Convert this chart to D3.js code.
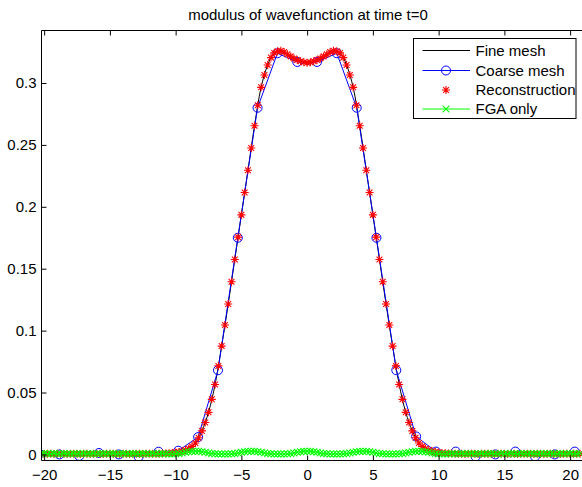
<!DOCTYPE html>
<html>
<head>
<meta charset="utf-8">
<script src="https://cdn.jsdelivr.net/npm/d3@7"></script>
<style>
  body { margin: 0; background: #fff; }
  svg { display: block; font-family: "Liberation Sans", Arial, Helvetica, sans-serif; }
</style>
</head>
<body>
<div id="chart"></div>
<script>
const title = 'modulus of wavefunction at time t=0';
const xTicks = [-20, -15, -10, -5, 0, 5, 10, 15, 20];
const yTicks = [0, 0.05, 0.1, 0.15, 0.2, 0.25, 0.3];
const seriesNames = ['Fine mesh', 'Coarse mesh', 'Reconstruction', 'FGA only'];

// fine mesh: one value every 0.5 starting at x = -20.5
const fineX0 = -20.5, fineStep = 0.5;
const fineY = [
  0.0005, 0.0005, 0.0005, 0.0005, 0.0005, 0.0005, 0.0005, 0.0005, 0.0005,
  0.0005, 0.0005, 0.0005, 0.0005, 0.0005, 0.0005, 0.0005, 0.0005, 0.0005,
  0.0006, 0.0007, 0.0010, 0.0015, 0.0026, 0.0046, 0.0092, 0.019, 0.034,
  0.0565, 0.0875, 0.1215, 0.1575, 0.1935, 0.2295, 0.2655, 0.2965, 0.3145,
  0.3245, 0.3262, 0.3232, 0.3198, 0.3178,
  0.3168,
  0.3178, 0.3198, 0.3232, 0.3262, 0.3245, 0.3145, 0.2965, 0.2655, 0.2295,
  0.1935, 0.1575, 0.1215, 0.0875, 0.0565, 0.034, 0.019, 0.0092, 0.0046,
  0.0026, 0.0015, 0.0010, 0.0007, 0.0006,
  0.0005, 0.0005, 0.0005, 0.0005, 0.0005, 0.0005, 0.0005, 0.0005, 0.0005, 0.0005,
  0.0005, 0.0005, 0.0005, 0.0005, 0.0005, 0.0005, 0.0005, 0.0005, 0.0005
];

// coarse mesh nodes
const coarseX = [-20.35, -18.84, -17.33, -15.83, -14.32, -12.81, -11.30, -9.80, -8.29, -6.78,
  -5.27, -3.77, -2.26, -0.75, 0.75, 2.26, 3.77, 5.27, 6.78, 8.29,
  9.80, 11.30, 12.81, 14.32, 15.83, 17.33, 18.84, 20.35];
const coarseY = [0.0005, 0.0000, -0.0012, 0.0012, 0.0000, -0.0018, 0.0022, 0.0030, 0.0140, 0.068,
  0.175, 0.280, 0.324, 0.317, 0.317, 0.324, 0.280, 0.175, 0.068, 0.0145,
  0.0023, 0.0023, -0.0017, 0.0000, 0.0023, -0.0017, 0.0000, 0.0023];

// reconstruction and FGA: one value every 0.25 starting at x = -20.25
const reconX0 = -20.25, reconStep = 0.25;
const reconY = [
  0.0005, 0.0004, 0.0006, 0.0005, 0.0004, 0.0006, 0.0005, 0.0005, 0.0004, 0.0006, 0.0005, 0.0005,
  0.0004, 0.0006, 0.0005, 0.0004, 0.0005, 0.0006, 0.0005, 0.0004, 0.0005, 0.0006, 0.0005, 0.0005,
  0.0004, 0.0006, 0.0005, 0.0004, 0.0005, 0.0006, 0.0005, 0.0004, 0.0005, 0.0006, 0.0005, 0.0005,
  0.0006, 0.0007, 0.0008, 0.0010, 0.0012, 0.0015, 0.0020, 0.0026, 0.0035, 0.0046, 0.0065, 0.0092,
  0.0135, 0.0190, 0.0258, 0.0340, 0.0445, 0.0565, 0.0715, 0.0875, 0.1045, 0.1215, 0.1395, 0.1575,
  0.1755, 0.1935, 0.2115, 0.2295, 0.2475, 0.2655, 0.2820, 0.2965, 0.3065, 0.3145, 0.3205, 0.3243,
  0.3257, 0.3260, 0.3250, 0.3232, 0.3215, 0.3198, 0.3185, 0.3175, 0.3168,
  0.3163,
  0.3168, 0.3175, 0.3185, 0.3198, 0.3215, 0.3232, 0.3250, 0.3260, 0.3257, 0.3243, 0.3205, 0.3145,
  0.3065, 0.2965, 0.2820, 0.2655, 0.2475, 0.2295, 0.2115, 0.1935, 0.1755, 0.1575, 0.1395, 0.1215,
  0.1045, 0.0875, 0.0715, 0.0565, 0.0445, 0.0340, 0.0258, 0.0190, 0.0135, 0.0092, 0.0065, 0.0046,
  0.0035, 0.0026, 0.0020, 0.0015, 0.0012, 0.0010, 0.0008, 0.0007, 0.0006,
  0.0005, 0.0006, 0.0004, 0.0005, 0.0005, 0.0006, 0.0004, 0.0005, 0.0006, 0.0005, 0.0004, 0.0005,
  0.0006, 0.0005, 0.0005, 0.0004, 0.0006, 0.0005, 0.0004, 0.0005, 0.0006, 0.0005, 0.0005, 0.0004,
  0.0006, 0.0005, 0.0004, 0.0005, 0.0006, 0.0005, 0.0005, 0.0004, 0.0006, 0.0005, 0.0004, 0.0005,
  0.0006, 0.0005
];
const fgaY = [
  0.0006, 0.0007, 0.0006, 0.0006, 0.0007, 0.0006, 0.0006, 0.0007, 0.0006, 0.0006, 0.0007, 0.0006, 0.0006,
  0.0007, 0.0006, 0.0006, 0.0007, 0.0006, 0.0006, 0.0007, 0.0006, 0.0006, 0.0007, 0.0006, 0.0006, 0.0007,
  0.0006, 0.0006, 0.0007, 0.0006, 0.0006, 0.0007, 0.0006, 0.0006, 0.0007, 0.0006, 0.0006, 0.0007, 0.0006,
  0.0004, 0.0004, 0.0005, 0.0008, 0.0012, 0.0017, 0.0022, 0.0025,
  0.0026, 0.0025, 0.0022, 0.0017, 0.0012, 0.0008, 0.0005, 0.0004, 0.0004,
  0.0004, 0.0004, 0.0005, 0.0008, 0.0012, 0.0017, 0.0022, 0.0025,
  0.0026, 0.0025, 0.0022, 0.0017, 0.0012, 0.0008, 0.0005, 0.0004, 0.0004,
  0.0004, 0.0004, 0.0005, 0.0008, 0.0012, 0.0017, 0.0022, 0.0025,
  0.0026, 0.0025, 0.0022, 0.0017, 0.0012, 0.0008, 0.0005, 0.0004, 0.0004,
  0.0004, 0.0004, 0.0005, 0.0008, 0.0012, 0.0017, 0.0022, 0.0025,
  0.0026, 0.0025, 0.0022, 0.0017, 0.0012, 0.0008, 0.0005, 0.0004, 0.0004,
  0.0004, 0.0004, 0.0005, 0.0008, 0.0012, 0.0017, 0.0022, 0.0025,
  0.0026, 0.0025, 0.0022, 0.0017, 0.0012, 0.0008, 0.0005, 0.0004, 0.0004,
  0.0006, 0.0007, 0.0006, 0.0006, 0.0007, 0.0006, 0.0006, 0.0007, 0.0006, 0.0006, 0.0007, 0.0006, 0.0006,
  0.0007, 0.0006, 0.0006, 0.0007, 0.0006, 0.0006, 0.0007, 0.0006, 0.0006, 0.0007, 0.0006, 0.0006, 0.0007,
  0.0006, 0.0006, 0.0007, 0.0006, 0.0006, 0.0007, 0.0006, 0.0006, 0.0007, 0.0006, 0.0006, 0.0007, 0.0006,
  0.0006, 0.0007
];

const width = 582, height = 487;
const plotLeft = 41.5, plotTop = 30.5, plotBottom = 460.5, plotRight = 600;
const fontSize = 15;

const svg = d3.select('#chart').append('svg')
  .attr('width', width)
  .attr('height', height);

svg.append('rect').attr('width', width).attr('height', height).attr('fill', '#fff');

const x = d3.scaleLinear().domain([-20.2, 22]).range([plotLeft, plotLeft + 42.2 * 13.15]);
const y = d3.scaleLinear().domain([-0.0049, 0.3424]).range([plotBottom, plotTop]);

svg.append('clipPath').attr('id', 'plot-clip')
  .append('rect')
  .attr('x', plotLeft).attr('y', plotTop)
  .attr('width', plotRight - plotLeft).attr('height', plotBottom - plotTop);

const fine = fineY.map((v, i) => ({ x: fineX0 + i * fineStep, y: v }));
const coarse = coarseX.map((v, i) => ({ x: v, y: coarseY[i] }));
const recon = reconY.map((v, i) => ({ x: reconX0 + i * reconStep, y: v }));
const fga = fgaY.map((v, i) => ({ x: reconX0 + i * reconStep, y: v }));

const plot = svg.append('g').attr('clip-path', 'url(#plot-clip)');

plot.append('path')
  .datum(fine)
  .attr('fill', 'none')
  .attr('stroke', '#000')
  .attr('stroke-width', 1)
  .attr('d', d3.line().x(d => x(d.x)).y(d => y(d.y)).curve(d3.curveCatmullRom));

plot.append('path')
  .datum(coarse)
  .attr('fill', 'none')
  .attr('stroke', '#0000ff')
  .attr('stroke-width', 1)
  .attr('d', d3.line().x(d => x(d.x)).y(d => y(d.y)));

plot.selectAll('circle.coarse')
  .data(coarse)
  .join('circle')
  .attr('class', 'coarse')
  .attr('cx', d => x(d.x))
  .attr('cy', d => y(d.y))
  .attr('r', 4.5)
  .attr('fill', 'none')
  .attr('stroke', '#0000ff');

function starPath(r) {
  const d = r * 0.72;
  return `M${-r},0H${r}M0,${-r}V${r}M${-d},${-d}L${d},${d}M${-d},${d}L${d},${-d}`;
}
function crossPath(r) {
  return `M${-r},${-r}L${r},${r}M${-r},${r}L${r},${-r}`;
}

plot.selectAll('path.recon')
  .data(recon)
  .join('path')
  .attr('class', 'recon')
  .attr('transform', d => `translate(${x(d.x)},${y(d.y)})`)
  .attr('d', starPath(4))
  .attr('fill', 'none')
  .attr('stroke', '#ff0000')
  .attr('stroke-width', 1.1);

plot.append('path')
  .datum(fga)
  .attr('fill', 'none')
  .attr('stroke', '#00ff00')
  .attr('stroke-width', 1)
  .attr('d', d3.line().x(d => x(d.x)).y(d => y(d.y)));

plot.selectAll('path.fga')
  .data(fga)
  .join('path')
  .attr('class', 'fga')
  .attr('transform', d => `translate(${x(d.x)},${y(d.y)})`)
  .attr('d', crossPath(3.4))
  .attr('fill', 'none')
  .attr('stroke', '#00ff00')
  .attr('stroke-width', 1.1);

// axes with inward ticks
const fmt = d => d < 0 ? '\u2212' + Math.abs(d) : String(d);

const xAxis = svg.append('g')
  .attr('transform', `translate(0,${plotBottom})`)
  .call(d3.axisBottom(x).tickValues(xTicks).tickSize(-5).tickPadding(9).tickFormat(fmt));
const xAxisTop = svg.append('g')
  .attr('transform', `translate(0,${plotTop})`)
  .call(d3.axisTop(x).tickValues(xTicks).tickSize(-5).tickFormat(''));
const yAxis = svg.append('g')
  .attr('transform', `translate(${plotLeft},0)`)
  .call(d3.axisLeft(y).tickValues(yTicks).tickSize(-5).tickPadding(5).tickFormat(d => String(d)));

[xAxis, xAxisTop, yAxis].forEach(g => {
  g.select('.domain').remove();
  g.attr('font-size', fontSize).attr('font-family', null);
  g.selectAll('text').attr('fill', '#000');
  g.selectAll('line').attr('stroke', '#000');
});

svg.append('path')
  .attr('d', `M${plotRight},${plotTop}H${plotLeft}V${plotBottom}H${plotRight}`)
  .attr('fill', 'none')
  .attr('stroke', '#000')
  .attr('stroke-width', 1);

svg.append('text')
  .attr('x', 308)
  .attr('y', 20)
  .attr('text-anchor', 'middle')
  .attr('font-size', fontSize)
  .text(title);

// legend
const legend = svg.append('g').attr('transform', 'translate(413.5,38.5)');
legend.append('rect')
  .attr('width', 162.5)
  .attr('height', 80)
  .attr('fill', '#fff')
  .attr('stroke', '#000');

const legendRows = [12, 32, 51.5, 70.5];
const legendStyle = [
  { color: '#000', line: true, marker: null },
  { color: '#0000ff', line: true, marker: 'circle' },
  { color: '#ff0000', line: false, marker: 'star' },
  { color: '#00ff00', line: true, marker: 'cross' }
];

seriesNames.forEach((name, i) => {
  const row = legend.append('g').attr('transform', `translate(0,${legendRows[i]})`);
  const s = legendStyle[i];
  if (s.line) {
    row.append('line').attr('x1', 9).attr('x2', 56.5)
      .attr('stroke', s.color).attr('stroke-width', 1);
  }
  if (s.marker === 'circle') {
    row.append('circle').attr('cx', 32.5).attr('r', 4.5)
      .attr('fill', 'none').attr('stroke', s.color);
  } else if (s.marker === 'star') {
    row.append('path').attr('transform', 'translate(32.5,0)')
      .attr('d', starPath(4)).attr('fill', 'none').attr('stroke', s.color).attr('stroke-width', 1.1);
  } else if (s.marker === 'cross') {
    row.append('path').attr('transform', 'translate(32.5,0)')
      .attr('d', crossPath(3.4)).attr('fill', 'none').attr('stroke', s.color).attr('stroke-width', 1.1);
  }
  row.append('text')
    .attr('x', 62)
    .attr('dy', '0.35em')
    .attr('font-size', fontSize)
    .text(name);
});
</script>
</body>
</html>
